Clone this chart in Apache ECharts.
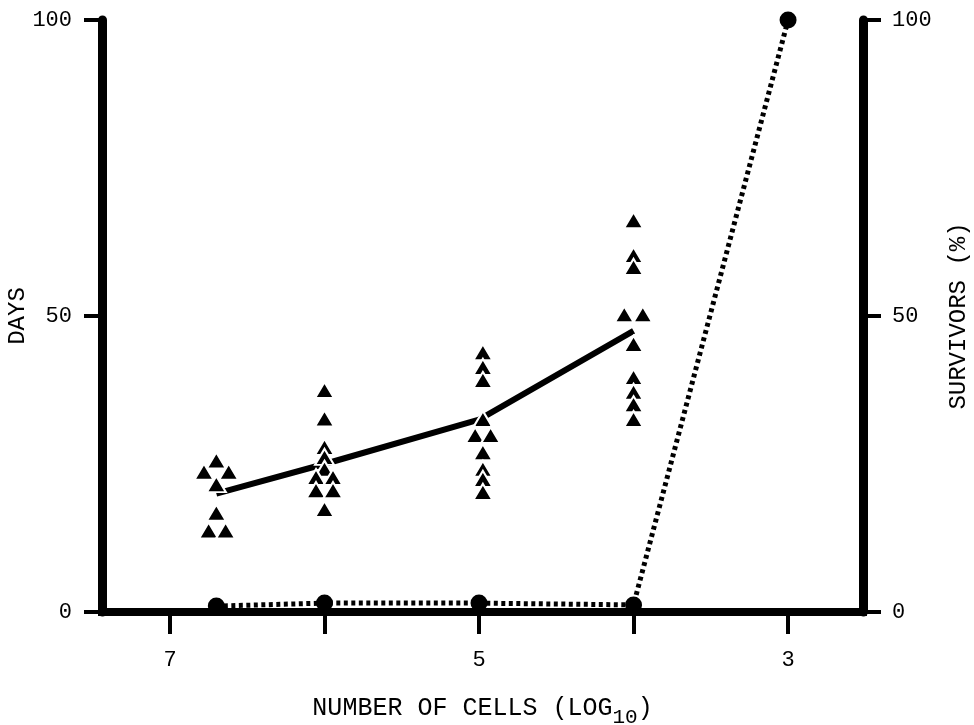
<!DOCTYPE html>
<html><head><meta charset="utf-8">
<script src="https://cdn.jsdelivr.net/npm/echarts@6/dist/echarts.min.js"></script>
<style>html,body{margin:0;padding:0;background:#fff}#c{width:974px;height:725px}</style>
</head><body><div id="c"></div>
<script>
// x ticks / labels (log10 number of cells, axis runs 7 -> 3)
const xTicks = [3, 4, 5, 6, 7];
const xLabels = [3, 5, 7];
const yTicks = [0, 50, 100];

// individual survival times (days); x includes the small horizontal jitter seen in the figure
const daysG1 = [[6.70,25.6],[6.78,23.7],[6.62,23.7],[6.70,21.6],[6.70,16.8],[6.75,13.8],[6.64,13.8]];
const daysG2 = [[6.0,37.5],[6.0,32.7],[6.0,27.9],[6.0,26.2],[6.0,24.2],[6.055,22.8],[5.945,22.8],[6.055,20.6],[5.945,20.6],[6.0,17.4]];
const daysG3 = [[4.975,43.9],[4.975,41.4],[4.975,39.2],[4.975,32.6],[5.025,29.9],[4.925,29.9],[4.975,27.0],[4.975,24.2],[4.975,22.5],[4.975,20.3]];
const daysG4 = [[4.0,66.2],[4.0,60.3],[4.0,58.3],[4.06,50.3],[3.94,50.3],[4.0,45.3],[4.0,39.7],[4.0,37.2],[4.0,35.1],[4.0,32.6]];

// mean survival line
const meanX = [6.7, 6, 5, 4];
const meanDays = [20, 25, 32.5, 47.5];

// survivors (%)
const survX = [6.7, 6, 5, 4, 3];
const survPct = [1, 1.5, 1.5, 1.2, 100];

const FONT = 'Liberation Mono';
const INK = '#000';

const allDays = daysG1.concat(daysG2, daysG3, daysG4);

const chart = echarts.init(document.getElementById('c'), null, {renderer: 'canvas'});
chart.setOption({
  animation: false,
  backgroundColor: '#fff',
  grid: {left: 102, right: 111, top: 20, bottom: 113, containLabel: false, outerBoundsMode: 'none'},
  xAxis: {
    type: 'value', inverse: true, min: 2.515, max: 7.44,
    axisLine: {show: true, lineStyle: {color: INK, width: 8, cap: 'square'}},
    axisTick: {show: true, customValues: xTicks, length: 22, lineStyle: {color: INK, width: 4}},
    axisLabel: {customValues: xLabels, margin: 37, fontSize: 22, fontFamily: FONT, color: INK},
    splitLine: {show: false},
    name: 'NUMBER OF CELLS (LOG{sub|10})',
    nameLocation: 'middle', nameGap: 77, nameMoveOverlap: false,
    nameTextStyle: {
      fontFamily: FONT, fontSize: 25, color: INK,
      rich: {sub: {fontFamily: FONT, fontSize: 21, color: INK, padding: [18, 0, 0, 0]}}
    }
  },
  yAxis: [{
    type: 'value', min: 0, max: 100, interval: 50, position: 'left',
    axisLine: {show: true, lineStyle: {color: INK, width: 9}},
    axisTick: {show: true, length: 18, lineStyle: {color: INK, width: 4}},
    axisLabel: {margin: 30, fontSize: 22, fontFamily: FONT, color: INK},
    splitLine: {show: false},
    name: 'DAYS', nameLocation: 'middle', nameRotate: 90, nameGap: 72, nameMoveOverlap: false,
    nameTextStyle: {fontFamily: FONT, fontSize: 24, color: INK}
  }, {
    type: 'value', min: 0, max: 100, interval: 50, position: 'right',
    axisLine: {show: true, lineStyle: {color: INK, width: 9}},
    axisTick: {show: true, length: 18, lineStyle: {color: INK, width: 4}},
    axisLabel: {margin: 29, fontSize: 22, fontFamily: FONT, color: INK},
    splitLine: {show: false},
    name: 'SURVIVORS (%)', nameLocation: 'middle', nameRotate: 90, nameGap: 84, nameMoveOverlap: false,
    nameTextStyle: {fontFamily: FONT, fontSize: 24, color: INK}
  }],
  series: [{
    type: 'line', yAxisIndex: 0, z: 2,
    data: meanX.map((x, i) => [x, meanDays[i]]),
    symbol: 'none', lineStyle: {color: INK, width: 6}
  }, {
    type: 'scatter', yAxisIndex: 0, z: 3,
    data: allDays, symbol: 'triangle', symbolSize: [19, 16],
    itemStyle: {color: INK, borderColor: '#fff', borderWidth: 2, opacity: 1}
  }, {
    type: 'line', yAxisIndex: 1, z: 4,
    data: survX.map((x, i) => [x, survPct[i]]),
    symbol: 'circle', symbolSize: 17, showSymbol: true,
    itemStyle: {color: INK, borderWidth: 0},
    lineStyle: {color: INK, width: 5, type: [4, 3.5], cap: 'butt'}
  }]
});
</script></body></html>
